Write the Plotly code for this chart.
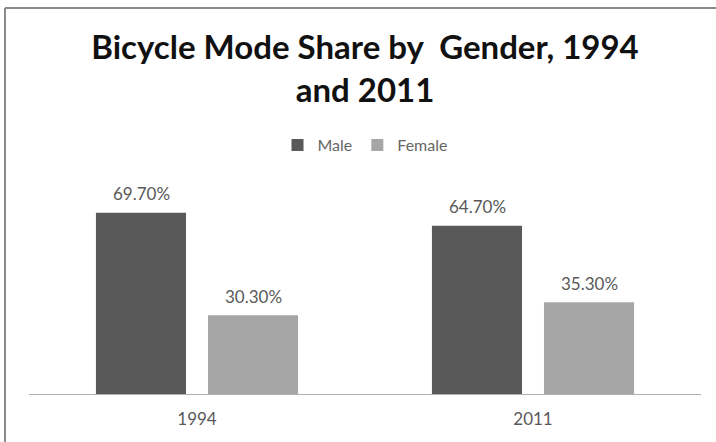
import plotly.graph_objects as go

years = ["1994", "2011"]
male = [69.7, 64.7]
female = [30.3, 35.3]
series_names = ["Male", "Female"]

W, H = 716, 442
ml, mr, mt, mb = 29, 15, 186, 48
pw, ph = W - ml - mr, H - mt - mb

def px_x(x):
    return (x - ml) / pw

def px_y(y):
    return (H - mb - y) / ph

font = "Lato, Open Sans, sans-serif"
label_color = "#595959"

fig = go.Figure()
fig.add_trace(go.Bar(
    x=years, y=male, name=series_names[0],
    marker=dict(color="#595959", line=dict(width=0)),
))
fig.add_trace(go.Bar(
    x=years, y=female, name=series_names[1],
    marker=dict(color="#a6a6a6", line=dict(width=0)),
))

annotations = []
for vals, shift in ((male, -56), (female, 56)):
    for i, v in enumerate(vals):
        annotations.append(dict(
            x=i, y=v, xref="x", yref="y", text=f"{v:.2f}%",
            showarrow=False, xshift=shift, yshift=19,
            font=dict(size=17, color=label_color, family=font),
        ))

fig.update_layout(
    width=W, height=H,
    margin=dict(l=ml, r=mr, t=mt, b=mb),
    paper_bgcolor="white", plot_bgcolor="white",
    barmode="group", bargap=0.333, bargroupgap=0.196,
    title=dict(
        text="<b>Bicycle Mode Share by  Gender, 1994<br>and 2011</b>",
        x=0.5, xanchor="center", xref="paper",
        y=1 - 59 / H, yanchor="middle", yref="container",
        font=dict(size=33, color="#111111", family=font),
    ),
    legend=dict(
        orientation="h", x=0.5, xanchor="center",
        y=px_y(145), yanchor="middle",
        font=dict(size=16, color="#666666", family=font),
        itemwidth=30, traceorder="normal",
    ),
    xaxis=dict(
        type="category",
        showline=True, linecolor="#b0b0b0", linewidth=1,
        ticks="", showgrid=False, zeroline=False,
        tickfont=dict(size=17, color=label_color, family=font),
        ticklabelstandoff=10,
    ),
    yaxis=dict(
        range=[0, 80], visible=False, showgrid=False, zeroline=False,
    ),
    showlegend=True,
    annotations=annotations,
    shapes=[
        dict(type="line", xref="paper", yref="paper",
             x0=px_x(5), x1=px_x(5), y0=px_y(8), y1=px_y(H + 5),
             line=dict(color="#8a8a8a", width=2)),
        dict(type="line", xref="paper", yref="paper",
             x0=px_x(5), x1=px_x(W + 5), y0=px_y(8), y1=px_y(8),
             line=dict(color="#8a8a8a", width=2)),
    ],
)

fig.write_html("out.html", config={"displayModeBar": False},
               post_script="document.body.style.margin='0';")
